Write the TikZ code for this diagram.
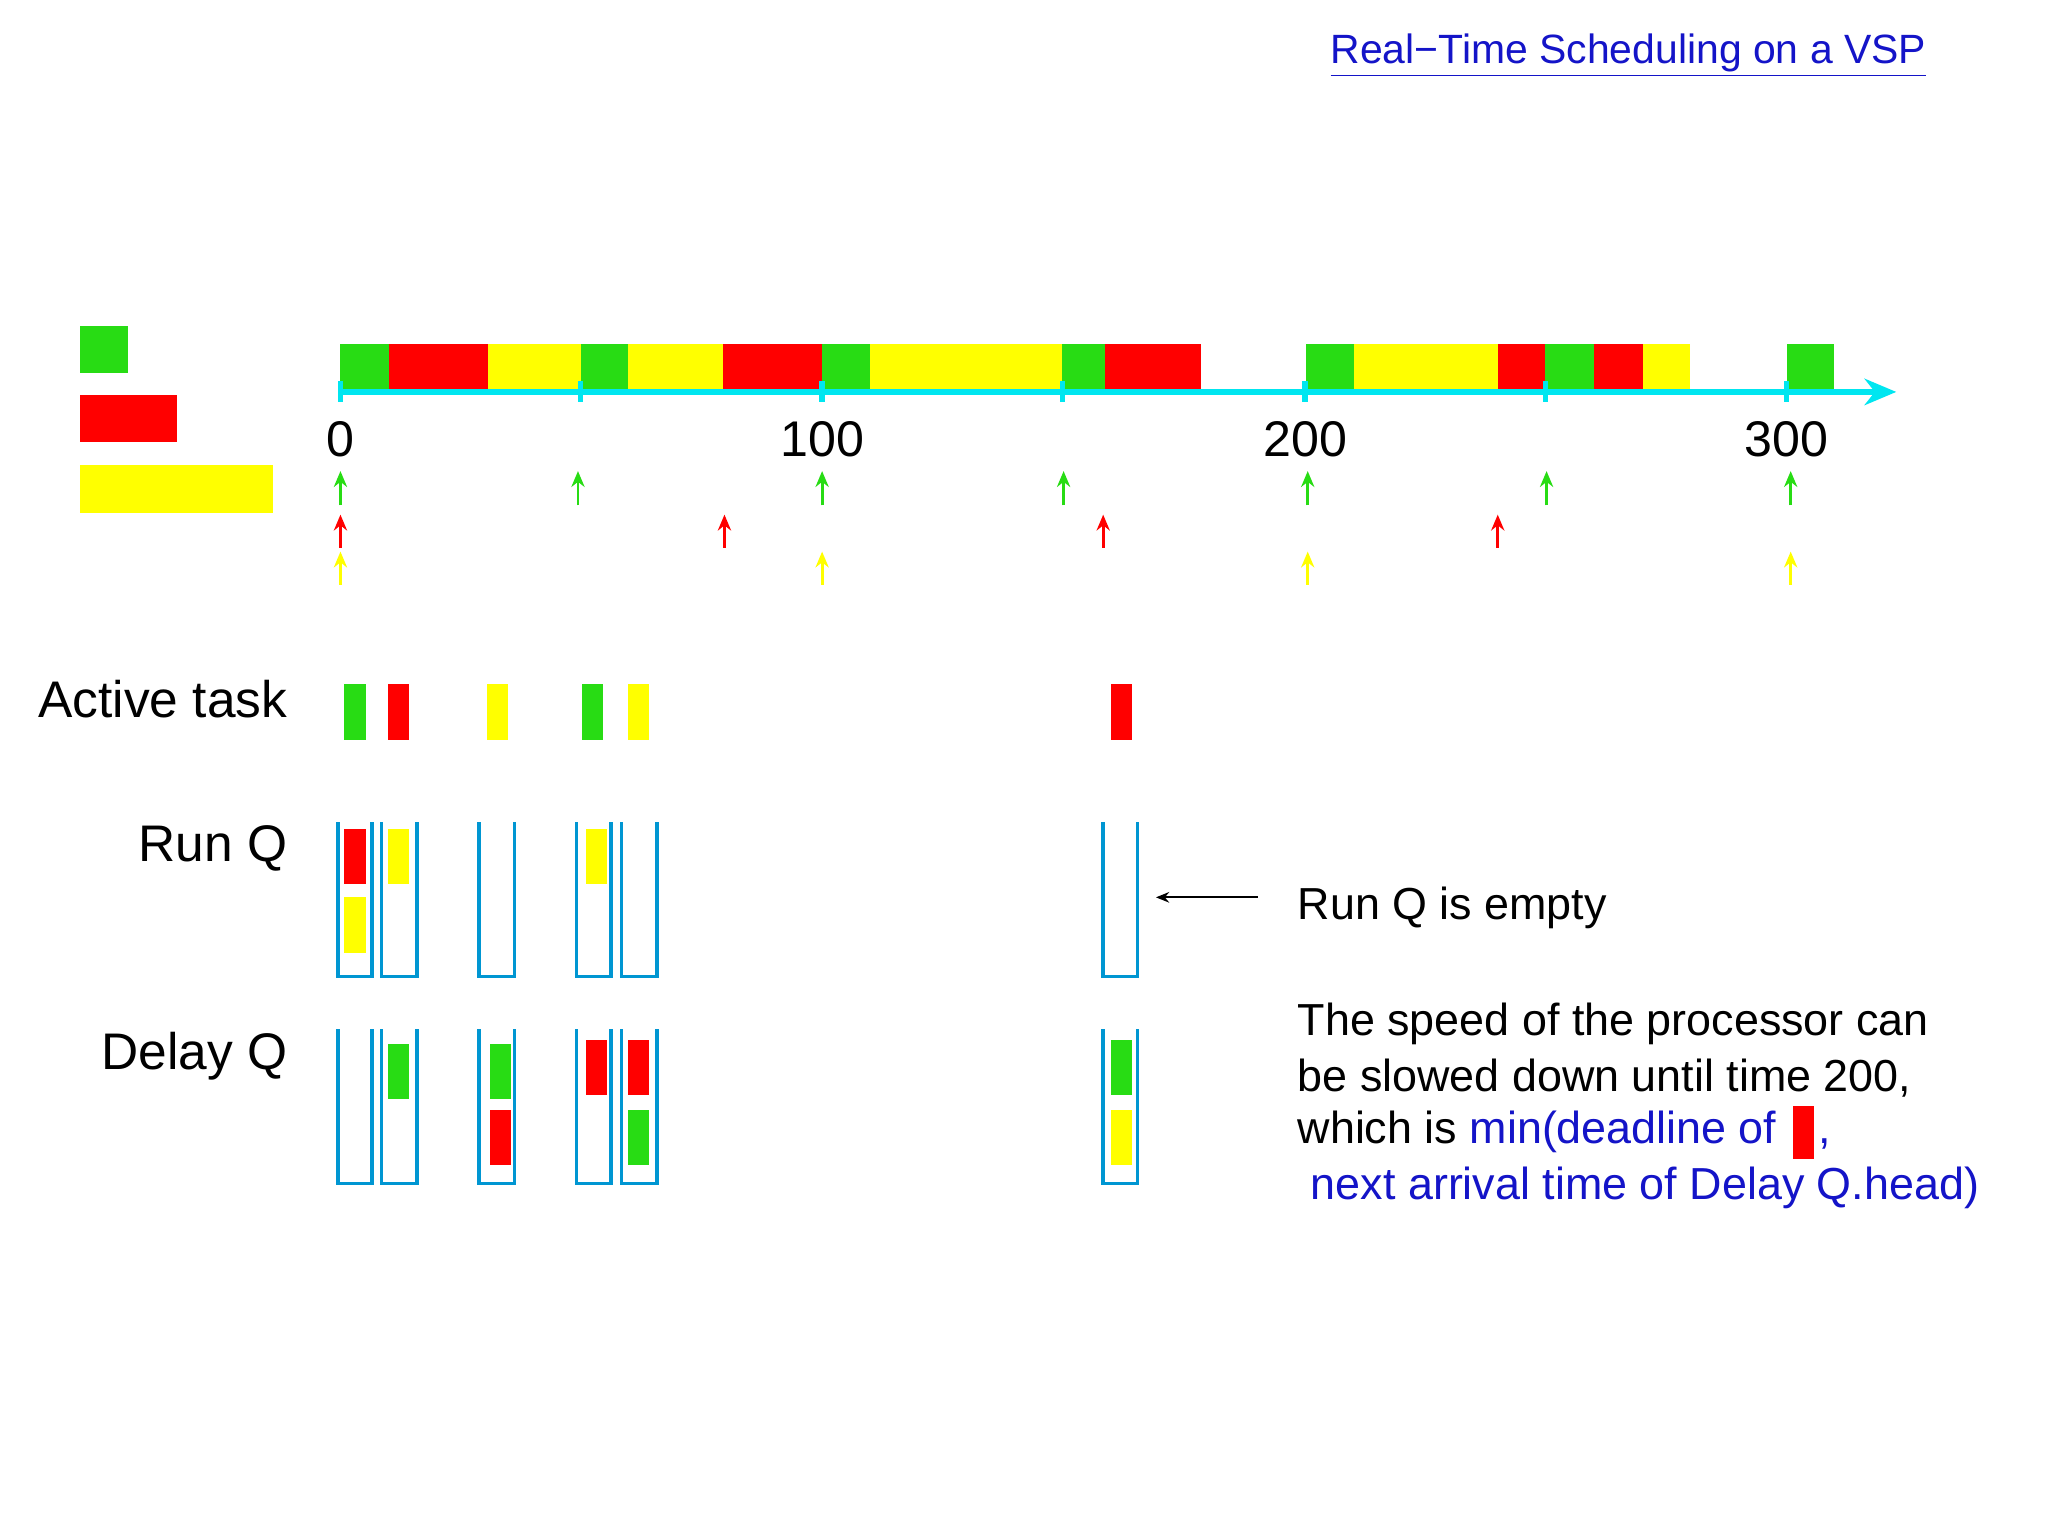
\documentclass[tikz,border=0pt]{standalone}
\usepackage{fontspec}
\setmainfont{Liberation Sans}
\usetikzlibrary{arrows.meta}
\definecolor{tg}{RGB}{40,220,20}
\definecolor{tr}{RGB}{255,0,0}
\definecolor{ty}{RGB}{255,255,0}
\definecolor{ax}{RGB}{0,230,240}
\definecolor{qb}{RGB}{0,150,210}
\definecolor{tb}{RGB}{20,20,200}
\begin{document}
\begin{tikzpicture}[x=0.5pt,y=-0.5pt,
  big/.style={font=\fontsize{19.5}{23}\selectfont,inner sep=0pt},
  qbox/.style={draw=qb,line width=1.3pt},
  up/.style={-{Stealth[length=6pt,width=5pt]},line width=1.1pt}]
\fill[white] (0,0) rectangle (1552,1164);
\useasboundingbox (0,0) rectangle (1552,1164);
\node[anchor=east,inner sep=0pt,font=\fontsize{15.5}{18}\selectfont,text=tb] (title) at (1460,42) {\underline{Real\textminus Time Scheduling on a VSP}};
% legend
\fill[tg] (61,247) rectangle (97,283);
\fill[tr] (61,299) rectangle (134,335);
\fill[ty] (61,352) rectangle (207,389);
% bar
\foreach \a/\b/\c in {258/295/tg,295/370/tr,370/440/ty,440/476/tg,476/548/ty,548/623/tr,623/659/tg,659/805/ty,805/837/tg,837/910/tr,990/1026/tg,1026/1135/ty,1135/1171/tr,1171/1208/tg,1208/1245/tr,1245/1281/ty,1354/1390/tg}
  \fill[\c] (\a,261) rectangle (\b,297);
\coordinate (a0) at (258,297); \coordinate (a1) at (1437,297);
\draw[ax,line width=2pt,-{Stealth[length=12pt,width=10pt]}] (a0) -- (a1);
\foreach \x in {258,440,623,805,989,1171,1354} \draw[ax,line width=2pt] (\x,289) -- (\x,305);
\foreach \x/\t in {258/0,623/100,989/200,1354/300} \node[big,font=\fontsize{19}{22}\selectfont] (l\t) at (\x,333) {\t};
% arrival arrows
\foreach \x in {258,438,623,806,991,1172,1357} \draw[up,tg] (\x,383) -- (\x,357);
\foreach \x in {258,549,836,1135} \draw[up,tr] (\x,415) -- (\x,390);
\foreach \x in {258,623,991,1357} \draw[up,ty] (\x,443) -- (\x,418);
% labels
\node[big,anchor=east] (act) at (218,530) {Active task};
\node[big,anchor=east] (rq) at (218,643) {Run Q};
\node[big,anchor=east] (dq) at (218,800) {Delay Q};
% active
\foreach \a/\c in {261/tg,294/tr,369/ty,441/tg,476/ty,842/tr} \fill[\c] (\a,518) rectangle (\a+16,561);
% containers
\foreach \a/\b in {256/282,289/316,363/390,437/463,471/498,836/862}{
  \draw[qbox] (\a,623) -- (\a,740) -- (\b,740) -- (\b,623);
  \draw[qbox] (\a,780) -- (\a,897) -- (\b,897) -- (\b,780);}
% run q contents
\fill[tr] (261,628) rectangle (277,670);
\fill[ty] (261,680) rectangle (277,722);
\fill[ty] (294,628) rectangle (310,670);
\fill[ty] (444,628) rectangle (460,670);
% delay q contents
\fill[tg] (294,791) rectangle (310,833);
\fill[tg] (371,791) rectangle (387,833);
\fill[tr] (371,841) rectangle (387,883);
\fill[tr] (444,788) rectangle (460,830);
\fill[tr] (476,788) rectangle (492,830);
\fill[tg] (476,841) rectangle (492,883);
\fill[tg] (842,788) rectangle (858,830);
\fill[ty] (842,841) rectangle (858,883);
% notes
\coordinate (p1) at (953,680); \coordinate (p2) at (876,680);
\draw[-{Stealth[length=5pt,width=4pt]},line width=0.8pt] (p1) -- (p2);
\node[big,anchor=west,font=\fontsize{17}{20}\selectfont] (empty) at (983,688) {Run Q is empty};
\node[big,anchor=west,font=\fontsize{17}{20}\selectfont] (s1) at (983,776) {The speed of the processor can};
\node[big,anchor=west,font=\fontsize{17}{20}\selectfont] (s2) at (983,817) {be slowed down until time 200,};
\node[big,anchor=west,font=\fontsize{17}{20}\selectfont] (s3) at (983,858) {which is \textcolor{tb}{min(deadline of\hspace{16pt},}};
\fill[tr] (1359,838) rectangle (1375,878);
\node[big,anchor=west,font=\fontsize{17}{20}\selectfont,text=tb] (s4) at (993,900) {next arrival time of Delay Q.head)};
\end{tikzpicture}
\end{document}
